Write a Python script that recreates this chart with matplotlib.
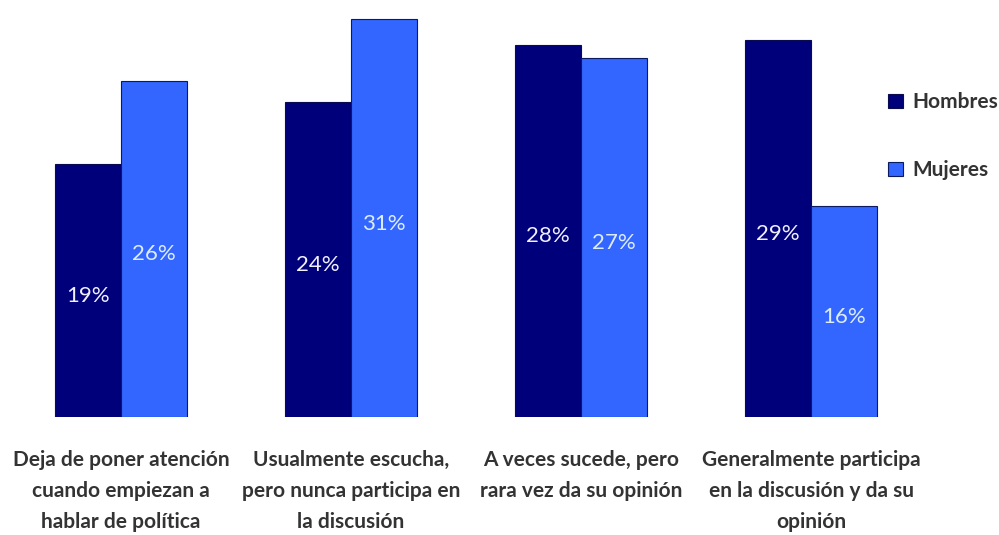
import matplotlib.pyplot as plt
import numpy as np

# categories and values
categories = ["Deja de poner atención\ncuando empiezan a\nhablar de política",
              "Usualmente escucha,\npero nunca participa en\nla discusión",
              "A veces sucede, pero\nrara vez da su opinión",
              "Generalmente participa\nen la discusión y da su\nopinión"]
hombres = [19.7, 24.5, 29.0, 29.4]
mujeres = [26.2, 31.0, 28.0, 16.4]
hombres_labels = ["19%", "24%", "28%", "29%"]
mujeres_labels = ["26%", "31%", "27%", "16%"]

plt.rcParams['font.family'] = ['Lato', 'DejaVu Sans']

fig = plt.figure(figsize=(9.99, 5.35), dpi=100)
ax = fig.add_axes([0, 118/535, 1, 417/535])

x = np.arange(len(categories))
w = 0.287
b1 = ax.bar(x - w/2, hombres, w, color='#00007a', edgecolor='#0a0a50', linewidth=0.8, label='Hombres')
b2 = ax.bar(x + w/2, mujeres, w, color='#3366ff', edgecolor='#0a1a60', linewidth=0.8, label='Mujeres')

ax.bar_label(b1, labels=hombres_labels, label_type='center', color='#f0f0ff', fontsize=16, padding=-4)
ax.bar_label(b2, labels=mujeres_labels, label_type='center', color='#dcecff', fontsize=16, padding=-4)

ax.set_xlim(-0.526, 3.817)
ax.set_ylim(0, 32.48)
ax.set_xticks(x)
ax.set_xticklabels(categories, fontsize=15, fontweight='bold', color='#333333',
                   linespacing=1.68, va='top')
ax.tick_params(axis='x', length=0, pad=24)
ax.set_yticks([])
for s in ax.spines.values():
    s.set_visible(False)

leg = ax.legend(loc='upper left', bbox_to_anchor=(880/999, 1 - 84/417), frameon=False,
                fontsize=15, labelspacing=2.3, handlelength=0.7, handleheight=0.7,
                handletextpad=0.45, borderaxespad=0)
for t in leg.get_texts():
    t.set_fontweight('bold')
    t.set_color('#333333')

fig.savefig('out.png', dpi=100)
